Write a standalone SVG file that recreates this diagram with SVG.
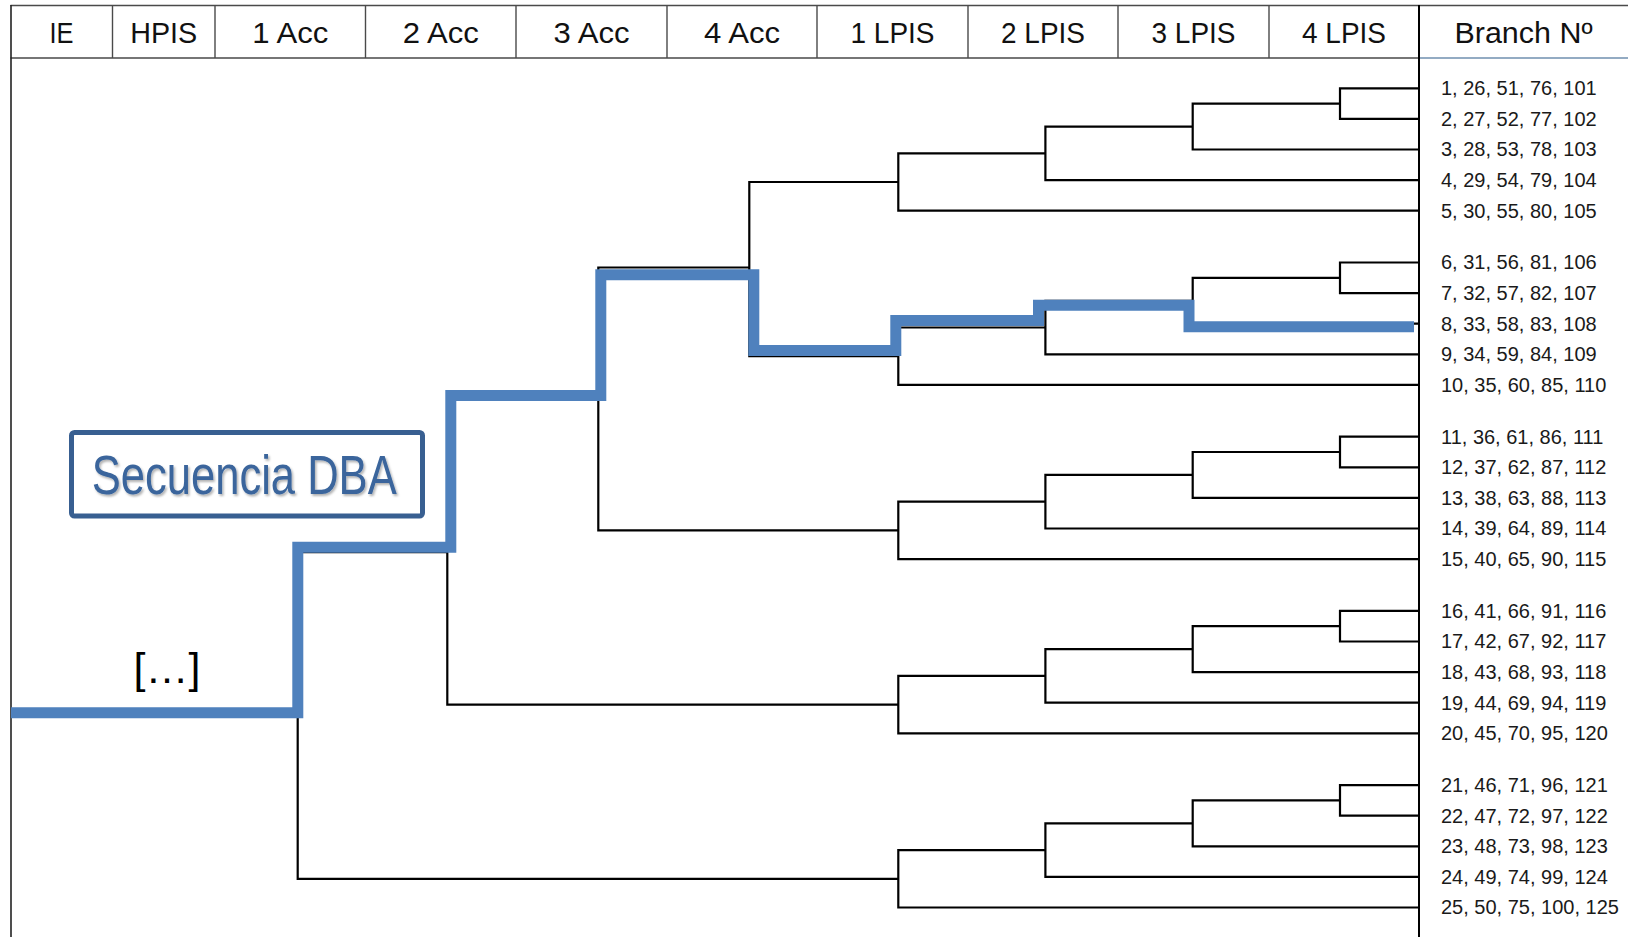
<svg xmlns="http://www.w3.org/2000/svg" width="1628" height="937" viewBox="0 0 1628 937">
  <style>
    .grid { stroke: #4a4a4a; stroke-width: 1.4; fill: none; }
    .head { font-family: "Liberation Sans", Arial, sans-serif; font-size: 30px; fill: #111; text-anchor: middle; }
    .leaf { font-family: "Liberation Sans", Arial, sans-serif; font-size: 20px; fill: #1a1a1a; }
    .tree { stroke: #000; stroke-width: 2.2; fill: none; stroke-linejoin: miter; }
    .path { stroke: #4F81BD; stroke-width: 11; fill: none; stroke-linejoin: miter; }
    .tag { fill: #fff; stroke: #385F91; stroke-width: 5; }
    .tagtext { font-family: "Liberation Sans", Arial, sans-serif; font-size: 56px; fill: #3A659C; }
    .dots { font-family: "Liberation Sans", Arial, sans-serif; font-size: 43px; fill: #000; text-anchor: middle; }
  </style>
  <defs>
    <filter id="softShadow" x="-5%" y="-20%" width="110%" height="140%">
      <feDropShadow dx="1.5" dy="2" stdDeviation="1.2" flood-color="#000" flood-opacity="0.3"/>
    </filter>
  </defs>

  <rect width="1628" height="937" fill="#fff"/>

  <!-- table frame and header row -->
  <g id="header">
    <path class="grid" d="M10.5 5.5H1628 M10.5 58H1419 M112.5 5.5V58 M215 5.5V58 M365.5 5.5V58 M516 5.5V58 M667 5.5V58 M817 5.5V58 M968 5.5V58 M1118 5.5V58 M1269 5.5V58"/>
    <path d="M1419 58H1628" stroke="#6F8FAF" stroke-width="1.3" fill="none"/>
    <path d="M11 5V937" stroke="#222" stroke-width="1.6" fill="none"/>
    <path d="M1419 5V937" stroke="#000" stroke-width="2" fill="none"/>
    <text class="head" x="61.5" y="42.5" textLength="24" lengthAdjust="spacingAndGlyphs">IE</text>
    <text class="head" x="163.75" y="42.5" textLength="67" lengthAdjust="spacingAndGlyphs">HPIS</text>
    <text class="head" x="290.25" y="42.5" textLength="76" lengthAdjust="spacingAndGlyphs">1 Acc</text>
    <text class="head" x="440.75" y="42.5" textLength="76" lengthAdjust="spacingAndGlyphs">2 Acc</text>
    <text class="head" x="591.5" y="42.5" textLength="76" lengthAdjust="spacingAndGlyphs">3 Acc</text>
    <text class="head" x="742" y="42.5" textLength="76" lengthAdjust="spacingAndGlyphs">4 Acc</text>
    <text class="head" x="892.5" y="42.5" textLength="84" lengthAdjust="spacingAndGlyphs">1 LPIS</text>
    <text class="head" x="1043" y="42.5" textLength="84" lengthAdjust="spacingAndGlyphs">2 LPIS</text>
    <text class="head" x="1193.5" y="42.5" textLength="84" lengthAdjust="spacingAndGlyphs">3 LPIS</text>
    <text class="head" x="1344" y="42.5" textLength="84" lengthAdjust="spacingAndGlyphs">4 LPIS</text>
    <text class="head" x="1523.5" y="42.5" textLength="138" lengthAdjust="spacingAndGlyphs" style="font-size:29px">Branch Nº</text>
  </g>

  <!-- dendrogram connectors -->
  <g id="connectors" class="tree">
    <path d="M1419 88.3H1340V118.9H1419 M1340 103.6H1192.7V149.5H1419 M1192.7 126.55H1045.4V180.1H1419 M1045.4 153.3H898.3V210.7H1419"/>
    <path d="M1419 262.5H1340V293.1H1419 M1340 277.8H1192.7V323.7H1419 M1192.7 300.75H1045.4V354.3H1419 M1045.4 327.5H898.3V384.9H1419"/>
    <path d="M1419 436.7H1340V467.3H1419 M1340 452H1192.7V497.9H1419 M1192.7 474.95H1045.4V528.5H1419 M1045.4 501.7H898.3V559.1H1419"/>
    <path d="M1419 610.9H1340V641.5H1419 M1340 626.2H1192.7V672.1H1419 M1192.7 649.15H1045.4V702.7H1419 M1045.4 675.9H898.3V733.3H1419"/>
    <path d="M1419 785.1H1340V815.7H1419 M1340 800.4H1192.7V846.3H1419 M1192.7 823.35H1045.4V876.9H1419 M1045.4 850.1H898.3V907.5H1419"/>
    <path d="M898.3 182H749.3V356.2H898.3"/>
    <path d="M749.3 267.5H598.3V530.4H898.3"/>
    <path d="M598.3 399.75H447.3V704.6H898.3"/>
    <path d="M447.3 552.2H297.7V878.8H898.3"/>
    <path d="M297.7 715.5H11"/>
  </g>

  <!-- highlighted sequence through the tree -->
  <g id="sequence-path">
    <polyline class="path" points="11,712.8 297.8,712.8 297.8,547.2 450.8,547.2 450.8,395.5 600.8,395.5 600.8,274.7 753.8,274.7 753.8,350.5 895.8,350.5 895.8,320.5 1038.5,320.5 1038.5,305.3 1189,305.3 1189,326.7 1414,326.7"/>
  </g>

  <!-- sequence tag -->
  <g id="tag-secuencia">
    <rect class="tag" x="71.5" y="432.5" width="351" height="83.5" rx="3"/>
    <text class="tagtext" x="91.7" y="494.3" textLength="305" lengthAdjust="spacingAndGlyphs" filter="url(#softShadow)">Secuencia DBA</text>
  </g>

  <g id="ellipsis">
    <text class="dots" x="167" y="683">[…]</text>
  </g>

  <!-- branch numbers -->
  <g id="branch-labels" class="leaf">
    <text x="1441" y="95.2">1, 26, 51, 76, 101</text>
    <text x="1441" y="125.8">2, 27, 52, 77, 102</text>
    <text x="1441" y="156.4">3, 28, 53, 78, 103</text>
    <text x="1441" y="187">4, 29, 54, 79, 104</text>
    <text x="1441" y="217.6">5, 30, 55, 80, 105</text>
    <text x="1441" y="269.4">6, 31, 56, 81, 106</text>
    <text x="1441" y="300">7, 32, 57, 82, 107</text>
    <text x="1441" y="330.6">8, 33, 58, 83, 108</text>
    <text x="1441" y="361.2">9, 34, 59, 84, 109</text>
    <text x="1441" y="391.8">10, 35, 60, 85, 110</text>
    <text x="1441" y="443.6">11, 36, 61, 86, 111</text>
    <text x="1441" y="474.2">12, 37, 62, 87, 112</text>
    <text x="1441" y="504.8">13, 38, 63, 88, 113</text>
    <text x="1441" y="535.4">14, 39, 64, 89, 114</text>
    <text x="1441" y="566">15, 40, 65, 90, 115</text>
    <text x="1441" y="617.8">16, 41, 66, 91, 116</text>
    <text x="1441" y="648.4">17, 42, 67, 92, 117</text>
    <text x="1441" y="679">18, 43, 68, 93, 118</text>
    <text x="1441" y="709.6">19, 44, 69, 94, 119</text>
    <text x="1441" y="740.2">20, 45, 70, 95, 120</text>
    <text x="1441" y="792">21, 46, 71, 96, 121</text>
    <text x="1441" y="822.6">22, 47, 72, 97, 122</text>
    <text x="1441" y="853.2">23, 48, 73, 98, 123</text>
    <text x="1441" y="883.8">24, 49, 74, 99, 124</text>
    <text x="1441" y="914.4">25, 50, 75, 100, 125</text>
  </g>
</svg>
